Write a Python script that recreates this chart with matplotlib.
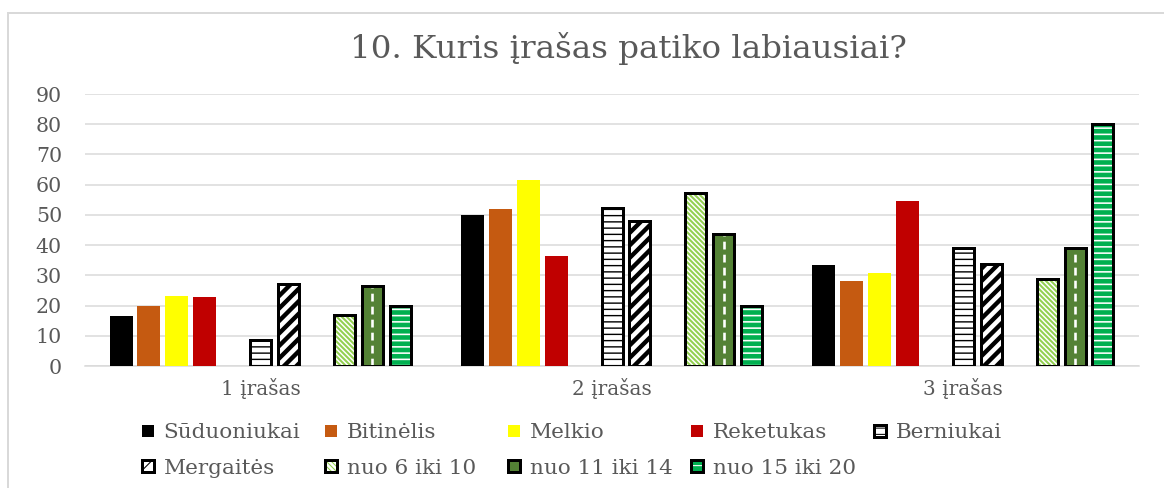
import matplotlib
matplotlib.use("Agg")
import matplotlib.pyplot as plt
import numpy as np
from matplotlib.legend_handler import HandlerTuple
from matplotlib.lines import Line2D

# ---------------- data ----------------
categories = ["1 įrašas", "2 įrašas", "3 įrašas"]
series_names = ["Sūduoniukai", "Bitinėlis", "Melkio", "Reketukas", "Berniukai",
                "Mergaitės", "nuo 6 iki 10", "nuo 11 iki 14", "nuo 15 iki 20"]
suduoniukai = [16.7, 50.0, 33.3]
bitinelis = [20.0, 52.0, 28.0]
melkio = [23.1, 61.5, 30.8]
reketukas = [22.7, 36.4, 54.5]
berniukai = [8.7, 52.2, 39.1]
mergaites = [27.2, 47.9, 33.6]
nuo_6_10 = [16.8, 57.1, 28.8]
nuo_11_14 = [26.4, 43.6, 39.2]
nuo_15_20 = [20.0, 20.0, 80.0]
y_ticks = [0, 10, 20, 30, 40, 50, 60, 70, 80, 90]
title = "10. Kuris įrašas patiko labiausiai?"

series_values = [suduoniukai, bitinelis, melkio, reketukas, berniukai,
                 mergaites, nuo_6_10, nuo_11_14, nuo_15_20]

# ---------------- style ----------------
W, H, DPI = 1164, 488, 75
GRAY_TXT = "#595959"
GRID = "#D9D9D9"
FONT = "DejaVu Serif"

def pt(px):
    return px * 72.0 / DPI

# face, hatch, hatch colour, hatch linewidth (px), bordered
styles = [
    dict(face="#000000", hatch=None, hc=None, hlw=0, border=False),
    dict(face="#C55A11", hatch=None, hc=None, hlw=0, border=False),
    dict(face="#FFFF00", hatch=None, hc=None, hlw=0, border=False),
    dict(face="#C00000", hatch=None, hc=None, hlw=0, border=False),
    dict(face="#FFFFFF", hatch="--", hc="#000000", hlw=1.4, border=True),
    dict(face="#FFFFFF", hatch="//", hc="#000000", hlw=4.4, border=True),
    dict(face="#FFFFFF", hatch="\\\\\\\\\\", hc="#92D050", hlw=2.0, border=True),
    dict(face="#548235", hatch=None, hc=None, hlw=0, border=True, dash=True),
    dict(face="#00B050", hatch="--", hc="#FFFFFF", hlw=1.6, border=True),
]
slots = [0, 1, 2, 3, 5, 6, 8, 9, 10]

plt.rcParams["font.family"] = [FONT, "DejaVu Sans"]

fig = plt.figure(figsize=(W / DPI, H / DPI), dpi=DPI)
fig.patch.set_facecolor("white")

ax_left, ax_right, ax_top, ax_bottom = 85, 1139, 94, 366
ax = fig.add_axes([ax_left / W, 1 - ax_bottom / H,
                   (ax_right - ax_left) / W, (ax_bottom - ax_top) / H])

cat_px = (ax_right - ax_left) / 3.0
pitch = 27.93 / cat_px
w_solid = 23.0 / cat_px
w_pat = 21.0 / cat_px

x = np.arange(len(categories))
handles = []
for name, vals, st, slot in zip(series_names, series_values, styles, slots):
    xpos = x + (slot - 5) * pitch
    if not st["border"]:
        bc = ax.bar(xpos, vals, width=w_solid, color=st["face"], linewidth=0,
                    zorder=2, label=name)
        handles.append(bc)
        continue
    with plt.rc_context({"hatch.linewidth": pt(st["hlw"]) if st["hlw"] else 1.0}):
        fill = ax.bar(xpos, vals, width=w_pat, facecolor=st["face"],
                      edgecolor=st["hc"] if st["hc"] else st["face"],
                      hatch=st["hatch"], linewidth=0, zorder=2)
    if st["hlw"]:
        for p in fill.patches:
            if hasattr(p, "set_hatch_linewidth"):
                p.set_hatch_linewidth(pt(st["hlw"]))
    if st.get("dash"):
        ax.vlines(xpos, 0, vals, colors="white", linewidth=pt(2.6),
                  linestyles=(0, (3.0, 2.0)), zorder=3)
    edge = ax.bar(xpos, vals, width=w_pat, facecolor="none",
                  edgecolor="black", linewidth=pt(3.0), zorder=4)
    handles.append((fill, edge))

ax.set_xlim(-0.5, 2.5)
ax.set_ylim(0, 90)
ax.set_yticks(y_ticks)
ax.set_xticks(x)
ax.set_xticklabels(categories)
ax.yaxis.grid(True, color=GRID, linewidth=pt(1.5))
ax.set_axisbelow(True)
for s in ["left", "right", "top"]:
    ax.spines[s].set_visible(False)
ax.spines["bottom"].set_color(GRID)
ax.spines["bottom"].set_linewidth(pt(1.5))
ax.spines["bottom"].set_zorder(1)
ax.tick_params(axis="y", length=0, pad=pt(23), labelsize=pt(20.5),
               labelcolor=GRAY_TXT)
ax.tick_params(axis="x", length=0, pad=pt(12), labelsize=pt(20),
               labelcolor=GRAY_TXT)

# title
fig.text(628 / W, 1 - 57.7 / H, title, ha="center", va="baseline",
         fontsize=pt(32.5), color=GRAY_TXT)

# chart-area border (partly cropped in the reference)
fig.add_artist(Line2D([8 / W, 1.0], [1 - 13 / H, 1 - 13 / H],
                      transform=fig.transFigure, color=GRID, linewidth=pt(2)))
fig.add_artist(Line2D([8 / W, 8 / W], [0, 1 - 13 / H],
                      transform=fig.transFigure, color=GRID, linewidth=pt(2)))

# legend: 5 uniform columns, 2 rows
leg_fs = 21.5
for i, (h, name) in enumerate(zip(handles, series_names)):
    col, row = i % 5, i // 5
    xl = 141.7 + col * 183.0
    yc = 433.0 + row * 35.0
    fig.legend([h], [name], loc="center left",
               bbox_to_anchor=(xl / W, 1 - yc / H),
               bbox_transform=fig.transFigure,
               frameon=False, borderpad=0, borderaxespad=0,
               handlelength=12 / leg_fs, handleheight=10 / leg_fs,
               handletextpad=10 / leg_fs, fontsize=pt(leg_fs),
               labelcolor=GRAY_TXT,
               handler_map={tuple: HandlerTuple(ndivide=1)})

fig.savefig("out.png", dpi=DPI)
